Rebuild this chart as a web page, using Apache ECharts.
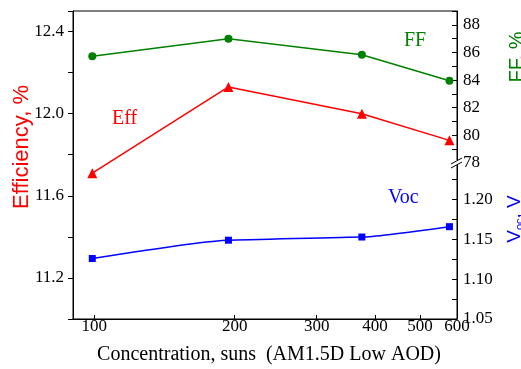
<!DOCTYPE html>
<html>
<head>
<meta charset="utf-8">
<script src="https://cdn.jsdelivr.net/npm/echarts@6/dist/echarts.min.js"></script>
<style>
html,body{margin:0;padding:0;background:#fff;}
#c{width:521px;height:369px;}
</style>
</head>
<body>
<div id="c"></div>
<script>
// ---- data ----
const concentration = [99, 194, 375, 578];
const effValues = [11.71, 12.13, 12.00, 11.87];
const ffValues = [85.72, 87.0, 85.84, 83.95];
const vocValues = [1.126, 1.149, 1.153, 1.166];
const xTickValues = [100, 200, 300, 400, 500, 600];
const xRange = [90, 600];

const serif = 'Liberation Serif';
const sans = 'Liberation Sans';
const lg = v => Math.log10(v);
const xMin = lg(xRange[0]), xMax = lg(xRange[1]);
const xTicks = xTickValues.map(lg);

function pairs(ys) { return concentration.map((c, i) => [lg(c), ys[i]]); }

const G = { left: 73, right: 64 };
const breakY = 163;

function xAxisDef(idx, visible) {
  return {
    type: 'value', gridIndex: idx, min: xMin, max: xMax,
    show: visible,
    axisLine: { show: visible, onZero: false, lineStyle: { color: '#000', width: 1 } },
    axisTick: { show: visible, inside: true, length: 4, customValues: xTicks, lineStyle: { color: '#000' } },
    axisLabel: {
      show: visible, customValues: xTicks, margin: -1, color: '#000',
      fontFamily: serif, fontSize: 17,
      formatter: v => String(Math.round(Math.pow(10, v)))
    },
    splitLine: { show: false }
  };
}

const chart = echarts.init(document.getElementById('c'), null, { renderer: 'canvas' });
chart.setOption({
  animation: false,
  backgroundColor: '#fff',
  grid: [
    { left: G.left, right: G.right, top: 11, bottom: 50, show: true, borderColor: '#000', borderWidth: 1, backgroundColor: 'transparent' },
    { left: G.left, right: G.right, top: 11, height: breakY - 11 },
    { left: G.left, right: G.right, top: breakY, bottom: 50 }
  ],
  xAxis: [xAxisDef(0, true), xAxisDef(1, false), xAxisDef(2, false)],
  yAxis: [
    {
      type: 'value', gridIndex: 0, position: 'left', min: 11.0, max: 12.5, interval: 0.2,
      axisLine: { show: true, lineStyle: { color: '#000' } },
      axisTick: { show: true, length: 5, lineStyle: { color: '#000' } },
      axisLabel: {
        color: '#000', fontFamily: serif, fontSize: 17, margin: 9,
        formatter: v => { const k = (v - 11.2) / 0.4; return (k > -1e-6 && Math.abs(k - Math.round(k)) < 1e-6) ? v.toFixed(1) : ''; }
      },
      splitLine: { show: false }
    },
    {
      type: 'value', gridIndex: 1, position: 'right', min: 78, max: 89, interval: 1,
      axisLine: { show: true, lineStyle: { color: '#000' } },
      axisTick: { show: true, inside: true, length: 5, lineStyle: { color: '#000' } },
      axisLabel: {
        color: '#000', fontFamily: serif, fontSize: 17, margin: 6,
        formatter: v => (Math.round(v) % 2 === 0 && v < 88.5) ? String(Math.round(v)) : ''
      },
      splitLine: { show: false }
    },
    {
      type: 'value', gridIndex: 2, position: 'right', min: 1.05, max: 1.246, interval: 0.025,
      axisLine: { show: true, lineStyle: { color: '#000' } },
      axisTick: { show: true, inside: true, length: 5, lineStyle: { color: '#000' } },
      axisLabel: {
        color: '#000', fontFamily: serif, fontSize: 17, margin: 6,
        formatter: v => { const m = Math.round(v * 1000); return (m % 50 === 0 && v < 1.24) ? v.toFixed(2) : ''; }
      },
      splitLine: { show: false }
    }
  ],
  series: [
    {
      name: 'Eff', type: 'line', xAxisIndex: 0, yAxisIndex: 0, data: pairs(effValues),
      symbol: 'triangle', symbolSize: 10, color: '#ff0000',
      lineStyle: { color: '#ff0000', width: 1.5 }, itemStyle: { color: '#ff0000' }
    },
    {
      name: 'FF', type: 'line', xAxisIndex: 1, yAxisIndex: 1, data: pairs(ffValues),
      symbol: 'circle', symbolSize: 8, color: '#008000',
      lineStyle: { color: '#008000', width: 1.5 }, itemStyle: { color: '#008000' }
    },
    {
      name: 'Voc', type: 'line', xAxisIndex: 2, yAxisIndex: 2, data: pairs(vocValues),
      symbol: 'rect', symbolSize: 7, color: '#0000ff', smooth: 0.15, smoothMonotone: 'x',
      lineStyle: { color: '#0000ff', width: 1.5 }, itemStyle: { color: '#0000ff' }
    }
  ],
  graphic: [
    { type: 'text', left: 112, top: 109, style: { text: 'Eff', fill: '#ff0000', font: '20px "Liberation Serif"' } },
    { type: 'text', left: 404, top: 31, style: { text: 'FF', fill: '#008000', font: '20px "Liberation Serif"' } },
    { type: 'text', left: 388, top: 188, style: { text: 'Voc', fill: '#0000ff', font: '20px "Liberation Serif"' } },
    { type: 'text', x: 269, y: 355, style: { text: 'Concentration, suns  (AM1.5D Low AOD)', fill: '#000', font: '20px "Liberation Serif"', align: 'center', verticalAlign: 'middle' } },
    { type: 'text', x: 22, y: 147, rotation: Math.PI / 2, style: { text: 'Efficiency, %', fill: '#ff0000', font: '22px "Liberation Sans"', align: 'center', verticalAlign: 'middle' } },
    { type: 'text', x: 517, y: 57, rotation: Math.PI / 2, style: { text: 'FF, %', fill: '#008000', font: '20px "Liberation Sans"', align: 'center', verticalAlign: 'middle' } },
    { type: 'text', x: 515, y: 219, rotation: Math.PI / 2, style: {
        text: '{a|V}{b|oc}{a|, V}', align: 'center', verticalAlign: 'middle',
        rich: { a: { fill: '#0000ff', fontFamily: sans, fontSize: 19 }, b: { fill: '#0000ff', fontFamily: sans, fontSize: 11, padding: [10, 0, 0, 0] } } } },
    { type: 'rect', shape: { x: 452, y: breakY - 3, width: 9, height: 5 }, style: { fill: '#fff' }, z: 100 },
    { type: 'line', shape: { x1: 451, y1: breakY + 1, x2: 462, y2: breakY - 5 }, style: { stroke: '#000', lineWidth: 1 }, z: 101 },
    { type: 'line', shape: { x1: 451, y1: breakY + 5, x2: 462, y2: breakY - 1 }, style: { stroke: '#000', lineWidth: 1 }, z: 101 }
  ]
});
</script>
</body>
</html>
